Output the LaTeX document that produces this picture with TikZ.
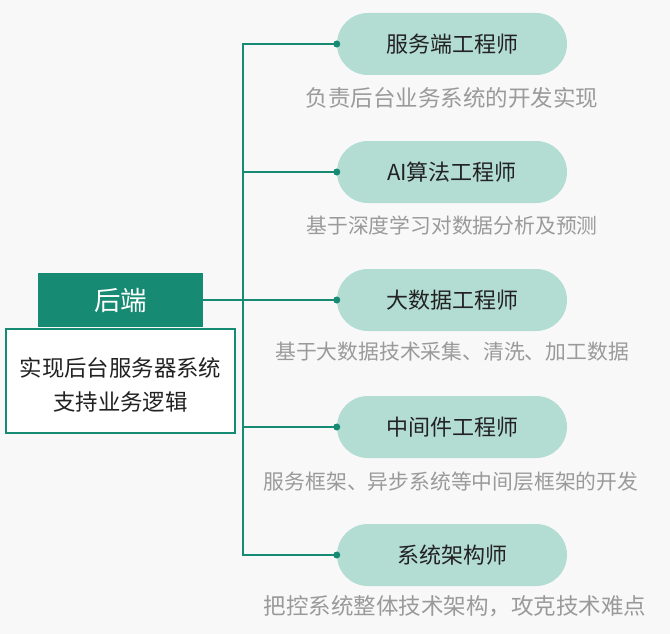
\documentclass[tikz,border=0pt]{standalone}
\usepackage{fontspec}
\usepackage{xcolor}
\newfontfamily\cjk{Noto Sans CJK SC}
\usetikzlibrary{positioning}
\definecolor{deepgreen}{HTML}{168A72}
\definecolor{mint}{HTML}{B3DCD2}
\definecolor{descgray}{HTML}{9A9A9A}
\definecolor{paper}{HTML}{F8F8F8}
\definecolor{inkdark}{HTML}{222222}

\begin{document}
\begin{tikzpicture}[x=1pt,y=-1pt,font=\cjk,
  title/.style={fill=deepgreen,text=white,inner sep=0pt,minimum width=165pt,minimum height=54pt,
    font=\cjk\fontsize{26.5}{30}\selectfont},
  body/.style={draw=deepgreen,line width=1.5pt,fill=white,inner sep=0pt,minimum width=229pt,
    minimum height=104pt,align=center,text=inkdark,text height=61pt,text depth=2pt,
    font=\cjk\fontsize{22.4}{34}\selectfont},
  role/.style={fill=mint,rounded corners=31pt,inner sep=0pt,minimum width=230pt,minimum height=62pt,
    text=inkdark,font=\cjk\fontsize{22}{26}\selectfont},
  desc/.style={text=descgray,inner sep=0pt,font=\cjk\fontsize{#1}{26}\selectfont},
  desc/.default=20.8,
  link/.style={draw=deepgreen,line width=1.5pt}]
\fill[paper] (0,0) rectangle (670,634);
% left block
\node[body] (body) at (120.5,381) {实现后台服务器系统\\支持业务逻辑};
\node[title] (hdr) at (120.5,300) {后端};
% roles
\node[role] (r1) at (452,44) {服务端工程师};
\node[role] (r2) at (452,172) {AI算法工程师};
\node[role] (r3) at (452,300) {大数据工程师};
\node[role] (r4) at (452,427) {中间件工程师};
\node[role] (r5) at (452,555) {系统架构师};
\node[desc=22.5] (d1) at (452,98) {负责后台业务系统的开发实现};
\node[desc] (d2) at (452,226) {基于深度学习对数据分析及预测};
\node[desc] (d3) at (452,352) {基于大数据技术采集、清洗、加工数据};
\node[desc] (d4) at (451,482) {服务框架、异步系统等中间层框架的开发};
\node[desc=22.5] (d5) at (455,606) {把控系统整体技术架构，攻克技术难点};
% connectors
\coordinate (trunk) at (243,300);
\draw[link] (hdr.east) -- (r3.west);
\draw[link] (r1.west) -| (trunk) |- (r5.west);
\draw[link] (r2.west) -| (trunk);
\draw[link] (r4.west) -| (trunk);
\foreach \r in {r1,r2,r3,r4,r5}
  \fill[deepgreen] (\r.west) circle (3.5pt);
\end{tikzpicture}
\end{document}
